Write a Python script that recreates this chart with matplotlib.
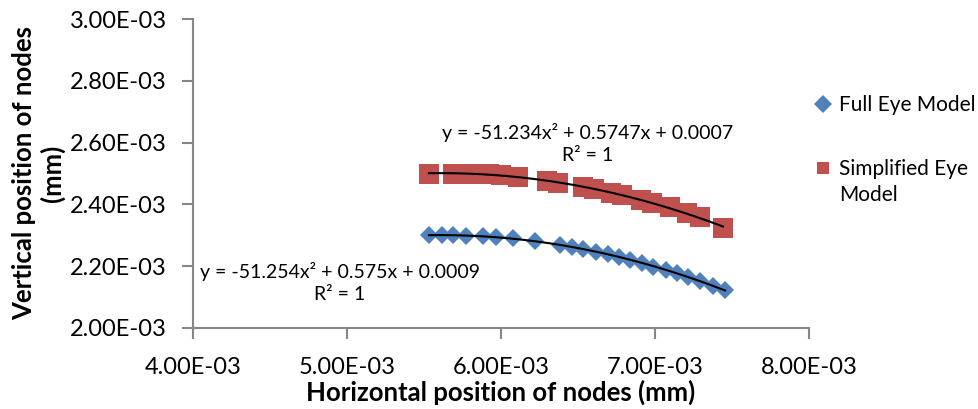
import numpy as np
import matplotlib.pyplot as plt

# noeuds du modele complet (losanges bleus)
full_x = [5.532e-3, 5.617e-3, 5.688e-3, 5.773e-3, 5.883e-3, 5.968e-3, 6.078e-3, 6.221e-3,
          6.383e-3, 6.461e-3, 6.532e-3, 6.617e-3, 6.695e-3, 6.766e-3, 6.838e-3, 6.916e-3,
          6.987e-3, 7.071e-3, 7.143e-3, 7.214e-3, 7.292e-3, 7.377e-3, 7.455e-3]
full_y = [2.300e-3, 2.300e-3, 2.300e-3, 2.299e-3, 2.297e-3, 2.294e-3, 2.290e-3, 2.281e-3,
          2.270e-3, 2.263e-3, 2.256e-3, 2.247e-3, 2.238e-3, 2.229e-3, 2.220e-3, 2.210e-3,
          2.199e-3, 2.188e-3, 2.177e-3, 2.165e-3, 2.152e-3, 2.137e-3, 2.122e-3]

# noeuds du modele simplifie (carres rouges)
simp_x = [5.532e-3, 5.688e-3, 5.812e-3, 5.922e-3, 6.000e-3, 6.110e-3, 6.299e-3, 6.370e-3,
          6.532e-3, 6.604e-3, 6.714e-3, 6.786e-3, 6.909e-3, 6.981e-3, 7.097e-3, 7.208e-3,
          7.292e-3, 7.442e-3]
simp_y = [2.500e-3, 2.500e-3, 2.500e-3, 2.497e-3, 2.495e-3, 2.490e-3, 2.476e-3, 2.470e-3,
          2.456e-3, 2.449e-3, 2.437e-3, 2.430e-3, 2.413e-3, 2.405e-3, 2.390e-3, 2.371e-3,
          2.358e-3, 2.325e-3]

x_ticks = [4e-3, 5e-3, 6e-3, 7e-3, 8e-3]
y_ticks = [2.0e-3, 2.2e-3, 2.4e-3, 2.6e-3, 2.8e-3, 3.0e-3]

eq_full = "y = -51.254x\u00b2 + 0.575x + 0.0009\nR\u00b2 = 1"
eq_simp = "y = -51.234x\u00b2 + 0.5747x + 0.0007\nR\u00b2 = 1"

plt.rcParams['font.family'] = ['Lato', 'DejaVu Sans']
blue = '#4F81BD'
red = '#C0504D'
grey = '#868686'

fig = plt.figure(figsize=(9.79, 4.09), dpi=100)
ax = fig.add_axes([193 / 979, 1 - 328 / 409, 616 / 979, 309 / 409])

ax.plot(full_x, full_y, 'D', color=blue, markersize=9.5, markeredgewidth=0,
        label='Full Eye Model', zorder=2)
ax.plot(simp_x, simp_y, 's', color=red, markersize=14, markeredgewidth=0,
        label='Simplified Eye', zorder=2)

# courbes de tendance polynomiales (ordre 2)
for xs, ys in [(full_x, full_y), (simp_x, simp_y)]:
    p = np.polyfit(xs, ys, 2)
    xx = np.linspace(min(xs), max(xs), 200)
    ax.plot(xx, np.polyval(p, xx), color='black', linewidth=1.5, zorder=3)

ax.text(0.2386, 0.147, eq_full, transform=ax.transAxes, ha='center', va='center',
        fontsize=14, linespacing=1.4)
ax.text(0.641, 0.597, eq_simp, transform=ax.transAxes, ha='center', va='center',
        fontsize=14, linespacing=1.4)

ax.set_xlim(4e-3, 8e-3)
ax.set_ylim(2e-3, 3e-3)
ax.set_xticks(x_ticks)
ax.set_yticks(y_ticks)
ax.set_xticklabels([f"{v:.2E}" for v in x_ticks])
ax.set_yticklabels([f"{v:.2E}" for v in y_ticks])
ax.tick_params(axis='both', labelsize=17, color=grey, width=1.5, length=8)
ax.tick_params(axis='x', pad=13)
ax.tick_params(axis='y', pad=11)

for side in ['top', 'right']:
    ax.spines[side].set_visible(False)
for side in ['left', 'bottom']:
    ax.spines[side].set_color(grey)
    ax.spines[side].set_linewidth(1.5)

ax.set_xlabel('Horizontal position of nodes (mm)', fontsize=18.5, fontweight='bold')
ax.set_ylabel('Vertical position of nodes\n(mm)', fontsize=18.5, fontweight='bold',
              linespacing=1.15)
ax.xaxis.set_label_coords(0.5, -0.168)
ax.yaxis.set_label_coords(-0.208, 0.5)

leg = fig.legend(loc='upper left', bbox_to_anchor=(806 / 979, 1 - 87 / 409),
                 frameon=False, fontsize=15, handlelength=0.8, handletextpad=0.4,
                 labelspacing=2.1, borderaxespad=0)
for h in leg.legend_handles:
    h.set_markersize(9)

# deuxieme ligne de la legende, alignee sous "Simplified Eye"
fig.canvas.draw()
bb = leg.get_texts()[1].get_window_extent()
x0, y0 = fig.transFigure.inverted().transform((bb.x0, bb.y0 - 6))
fig.text(x0, y0, 'Model', fontsize=15, ha='left', va='top')

fig.savefig('out.png', dpi=100)
